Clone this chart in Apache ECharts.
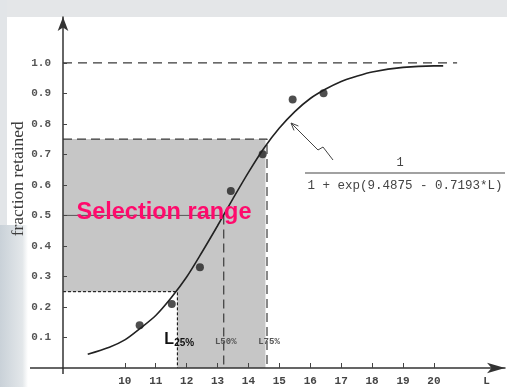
<!DOCTYPE html>
<html>
<head>
<meta charset="utf-8">
<script src="https://cdn.jsdelivr.net/npm/echarts@6/dist/echarts.min.js"></script>
<style>html,body{margin:0;padding:0;background:#fff}#c{width:507px;height:387px}</style>
</head>
<body>
<div id="c"></div>
<script>
// ---- data ----
const curveL = [8.8, 9.5, 10, 10.5, 11, 11.5, 12, 12.5, 13, 13.5, 14, 14.5, 15, 15.5, 16, 16.5, 17, 17.5, 18, 19, 20, 20.3];
const curveY = [0.045, 0.068, 0.092, 0.13, 0.172, 0.23, 0.298, 0.38, 0.466, 0.555, 0.641, 0.72, 0.786, 0.84, 0.883, 0.914, 0.939, 0.956, 0.97, 0.985, 0.99, 0.99];
const obsL = [10.48, 11.52, 12.43, 13.43, 14.46, 15.43, 16.43];
const obsY = [0.14, 0.21, 0.33, 0.58, 0.70, 0.88, 0.90];
const xTicks = [10, 11, 12, 13, 14, 15, 16, 17, 18, 19, 20];
const yTicks = [0.1, 0.2, 0.3, 0.4, 0.5, 0.6, 0.7, 0.8, 0.9, 1.0];
const L25 = 11.7, L50 = 13.2, L75 = 14.6, boxRight = 14.55, topLineEnd = 20.75;
const F25 = 0.25, F50 = 0.5, F75 = 0.75, F100 = 1.0;
const xMin = 8, xMax = 22.3, yMin = 0, yMax = 1.15;
const xNameAt = 21.7;

const chart = echarts.init(document.getElementById('c'), null, {renderer: 'canvas'});
const monoFont = '"Liberation Mono", "DejaVu Sans Mono", monospace';
const dashCol = '#3a3a3a';

const option = {
  backgroundColor: '#ffffff',
  animation: false,
  grid: {left: 63, right: 2, top: 17, bottom: 19, containLabel: false, outerBoundsMode: 'none'},
  xAxis: {
    type: 'value', min: xMin, max: xMax, z: 5,
    splitLine: {show: false},
    axisLine: {show: true, lineStyle: {color: '#333', width: 1.5}, symbol: ['none', 'arrow'], symbolSize: [8, 18], symbolOffset: [0, 0]},
    axisTick: {show: true, inside: true, length: 5, lineStyle: {color: '#444'}, customValues: xTicks},
    axisLabel: {
      customValues: xTicks.concat([xNameAt]), margin: 8,
      fontFamily: monoFont, fontSize: 11, fontWeight: 'bold', color: '#444',
      formatter: v => (Math.abs(v - xNameAt) < 1e-6 ? 'L' : String(Math.round(v)))
    }
  },
  yAxis: {
    type: 'value', min: yMin, max: yMax, z: 5,
    splitLine: {show: false},
    axisLine: {show: true, lineStyle: {color: '#333', width: 1.5}, symbol: ['none', 'arrow'], symbolSize: [8, 14]},
    axisTick: {show: true, inside: true, length: 4, lineStyle: {color: '#444'}, customValues: yTicks},
    axisLabel: {customValues: yTicks, margin: 12, fontFamily: monoFont, fontSize: 11, fontWeight: 'bold', color: '#555',
      formatter: v => v.toFixed(1)}
  },
  series: [
    {
      type: 'line', data: [[xMin, yMin]], symbol: 'none', lineStyle: {opacity: 0}, silent: true, z: 1,
      markArea: {
        silent: true,
        data: [
          [{coord: [xMin, yMin], itemStyle: {color: '#c6c6c6'}}, {coord: [boxRight, F75]}],
          [{coord: [xMin, yMin], itemStyle: {color: '#ffffff'}}, {coord: [L25, F25]}]
        ]
      }
    },
    {type: 'line', data: [[xMin, F100], [topLineEnd, F100]], symbol: 'none', z: 2,
      lineStyle: {color: dashCol, width: 1.2, type: [9, 6]}},
    {type: 'line', data: [[xMin, F75], [L75, F75], [L75, yMin]], symbol: 'none', z: 2,
      lineStyle: {color: dashCol, width: 1.2, type: [9, 5]}},
    {type: 'line', data: [[xMin, F50], [L50, F50]], symbol: 'none', z: 2,
      lineStyle: {color: '#555', width: 1}},
    {type: 'line', data: [[L50, F50], [L50, yMin]], symbol: 'none', z: 2,
      lineStyle: {color: dashCol, width: 1.2, type: [9, 5]}},
    {type: 'line', data: [[xMin, F25], [L25, F25], [L25, yMin]], symbol: 'none', z: 2,
      lineStyle: {color: '#000', width: 1, type: [3, 2]}},
    {type: 'line', data: curveL.map((l, i) => [l, curveY[i]]), symbol: 'none', smooth: 0.3, z: 3,
      lineStyle: {color: '#222', width: 1.6}},
    {type: 'scatter', data: obsL.map((l, i) => [l, obsY[i]]), symbolSize: 8, z: 4,
      itemStyle: {color: '#222'}}
  ]
};
chart.setOption(option);

const px = (l, f) => chart.convertToPixel({gridIndex: 0}, [l, f]);
const p0 = px(xMin, yMin);
const sel = px(11.3, 0.51);
const l25p = px(L25, 0.07);
const l50p = px(L50, 0.085);
const l75p = px(L75, 0.085);
const nameP = px(xMin, 0.62);

// arrow geometry
const tip = [291, 123];
const shaftStart = [318, 150];
const dx = tip[0] - shaftStart[0], dy = tip[1] - shaftStart[1];
const len = Math.hypot(dx, dy), ux = dx / len, uy = dy / len;
const wing = (ang) => {
  const c = Math.cos(ang), s = Math.sin(ang);
  const bx = -ux, by = -uy;
  return [tip[0] + 8 * (bx * c - by * s), tip[1] + 8 * (bx * s + by * c)];
};

chart.setOption({
  graphic: [
    {type: 'rect', silent: true, z: -10, shape: {x: 0, y: 0, width: 507, height: 17}, style: {fill: '#e4e6e8'}},
    {type: 'rect', silent: true, z: -10, shape: {x: 0, y: 0, width: 7, height: 387}, style: {fill: '#e2e5e8'}},
    {type: 'rect', silent: true, z: -10, shape: {x: 0, y: 225, width: 28, height: 162},
      style: {fill: new echarts.graphic.LinearGradient(0, 0, 1, 0, [{offset: 0, color: '#c9d1d8'}, {offset: 0.8, color: '#e3e7ea'}, {offset: 1, color: '#ffffff'}])}},
    {type: 'line', silent: true, z: 10, shape: {x1: 30, y1: p0[1], x2: p0[0], y2: p0[1]}, style: {stroke: '#333', lineWidth: 1.5}},
    {type: 'line', silent: true, z: 10, shape: {x1: p0[0], y1: p0[1], x2: p0[0], y2: p0[1] + 6}, style: {stroke: '#333', lineWidth: 1.5}},
    {type: 'text', silent: true, z: 20, x: nameP[0] - 45, y: nameP[1], rotation: Math.PI / 2,
      style: {text: 'fraction retained', fill: '#3c3c3c', font: '17.5px "Liberation Serif", "DejaVu Serif", serif', align: 'center', verticalAlign: 'middle'}},
    {type: 'text', silent: true, z: 20, x: sel[0] - 1, y: sel[1],
      style: {text: 'Selection range', fill: '#ff0a6c', font: 'bold 23.5px "Liberation Sans", Arial, sans-serif', align: 'center', verticalAlign: 'middle'}},
    {type: 'text', silent: true, z: 20, x: l25p[0] - 13, y: l25p[1] + 2,
      style: {text: '{a|L}{b|25%}', align: 'left', verticalAlign: 'bottom',
        rich: {a: {font: 'bold 16px "Liberation Sans", Arial, sans-serif', fill: '#111'},
               b: {font: 'bold 10px "Liberation Sans", Arial, sans-serif', fill: '#111', padding: [8, 0, 0, 0]}}}},
    {type: 'text', silent: true, z: 20, x: l50p[0] + 2, y: l50p[1],
      style: {text: 'L50%', fill: '#555', font: 'bold 9px ' + monoFont, align: 'center', verticalAlign: 'middle'}},
    {type: 'text', silent: true, z: 20, x: l75p[0] + 2, y: l75p[1],
      style: {text: 'L75%', fill: '#555', font: 'bold 9px ' + monoFont, align: 'center', verticalAlign: 'middle'}},
    {type: 'polyline', silent: true, z: 20, shape: {points: [[333, 160], [323, 147], [318, 150], tip]}, style: {stroke: '#444', lineWidth: 1, fill: null}},
    {type: 'polyline', silent: true, z: 20, shape: {points: [wing(0.4), tip, wing(-0.4)]}, style: {stroke: '#444', lineWidth: 1, fill: null}},
    {type: 'text', silent: true, z: 20, x: 400, y: 163,
      style: {text: '1', fill: '#444', font: '12px ' + monoFont, align: 'center', verticalAlign: 'middle'}},
    {type: 'line', silent: true, z: 20, shape: {x1: 305, y1: 173, x2: 505, y2: 173}, style: {stroke: '#444', lineWidth: 1.2}},
    {type: 'text', silent: true, z: 20, x: 405, y: 186,
      style: {text: '1 + exp(9.4875 - 0.7193*L)', fill: '#444', font: '12.5px ' + monoFont, align: 'center', verticalAlign: 'middle'}}
  ]
});
</script>
</body>
</html>
